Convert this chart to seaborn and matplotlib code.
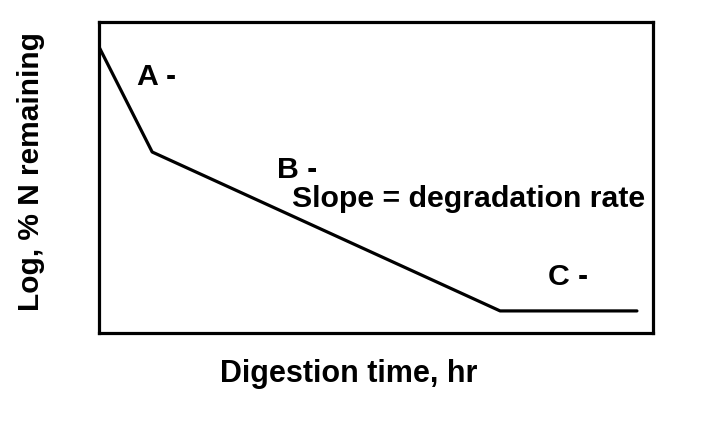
import matplotlib
matplotlib.use("Agg")
import matplotlib.pyplot as plt
import seaborn as sns
import pandas as pd

time_hr = [0.0, 0.96, 7.24, 9.71]
log_n = [9.2, 5.82, 0.71, 0.71]
annot_text = ["A -", "B -", "Slope = degradation rate", "C -"]
annot_x = [0.686, 3.21, 3.48, 8.10]
annot_y = [7.97, 4.98, 4.05, 1.54]

sns.set_theme(style="white")
plt.rcParams['font.family'] = ['Liberation Sans', 'DejaVu Sans']

fig = plt.figure(figsize=(7.18, 4.25), dpi=100)
ax = fig.add_axes([99/718, 1-333/425, (653-99)/718, (333-22)/425])
df = pd.DataFrame({"t": time_hr, "n": log_n})
sns.lineplot(data=df, x="t", y="n", ax=ax, color="black", linewidth=2.3, sort=False)
ax.set_xlim(0, 10)
ax.set_ylim(0, 10)
ax.set_xticks([])
ax.set_yticks([])
for s in ax.spines.values():
    s.set_color("black")
    s.set_linewidth(2.3)
for t, x, y in zip(annot_text, annot_x, annot_y):
    ax.text(x, y, t, fontsize=21.8, fontweight="bold", color="black", ha="left", va="baseline")
ax.set_xlabel("Digestion time, hr", fontsize=22, fontweight="bold", color="black")
ax.set_ylabel("Log, % N remaining", fontsize=21.5, fontweight="bold", color="black")
ax.xaxis.set_label_coords(0.451, -0.085)
ax.yaxis.set_label_coords(-0.097, 0.52)
fig.savefig("out.png", dpi=100, facecolor="white")
